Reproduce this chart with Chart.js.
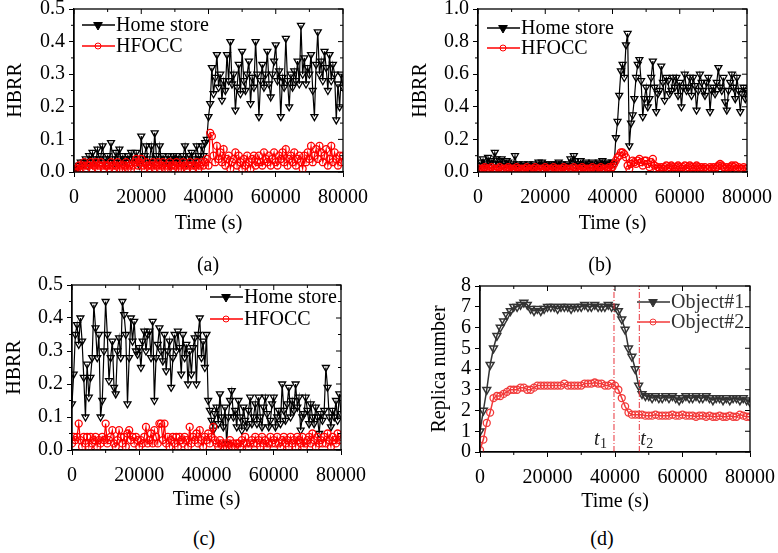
<!DOCTYPE html>
<html>
<head>
<meta charset="utf-8">
<title>HBRR / Replica number</title>
<script src="https://cdn.jsdelivr.net/npm/chart.js@4.4.0/dist/chart.umd.min.js"></script>
<style>
  body { margin: 0; background: #fff; width: 778px; height: 553px; position: relative; overflow: hidden;
         font-family: 'Liberation Serif', 'Times New Roman', serif; }
  canvas { position: absolute; }
  .cap { position: absolute; font-size: 20px; color: #000; transform: translate(-50%, -50%); white-space: nowrap; }
</style>
</head>
<body>
<canvas id="pa" width="390" height="245" style="left:0;top:0"></canvas>
<canvas id="pb" width="388" height="245" style="left:390px;top:0"></canvas>
<canvas id="pc" width="390" height="245" style="left:0;top:270px"></canvas>
<canvas id="pd" width="388" height="245" style="left:390px;top:270px"></canvas>
<div class="cap" style="left:208px;top:264px">(a)</div>
<div class="cap" style="left:600px;top:264px">(b)</div>
<div class="cap" style="left:204px;top:538px">(c)</div>
<div class="cap" style="left:602px;top:538px">(d)</div>
<script>
// sample times (s) for panels a-c, one row = 5000 s
const times = [0,500,1000,1500,2000,2500,3000,3500,4000,4500,
  5000,5500,6000,6500,7000,7500,8000,8500,9000,9500,
  10000,10500,11000,11500,12000,12500,13000,13500,14000,14500,
  15000,15500,16000,16500,17000,17500,18000,18500,19000,19500,
  20000,20500,21000,21500,22000,22500,23000,23500,24000,24500,
  25000,25500,26000,26500,27000,27500,28000,28500,29000,29500,
  30000,30500,31000,31500,32000,32500,33000,33500,34000,34500,
  35000,35500,36000,36500,37000,37500,38000,38500,39000,39500,
  40000,40500,41000,41500,42000,42500,43000,43500,44000,44500,
  45000,45500,46000,46500,47000,47500,48000,48500,49000,49500,
  50000,50500,51000,51500,52000,52500,53000,53500,54000,54500,
  55000,55500,56000,56500,57000,57500,58000,58500,59000,59500,
  60000,60500,61000,61500,62000,62500,63000,63500,64000,64500,
  65000,65500,66000,66500,67000,67500,68000,68500,69000,69500,
  70000,70500,71000,71500,72000,72500,73000,73500,74000,74500,
  75000,75500,76000,76500,77000,77500,78000,78500,79000,79500,
  80000];

// (a) HBRR
const homeA = [0.01,0.01,0.01,0.02,0.03,0.02,0.03,0.04,0.02,0.05,
  0.03,0.06,0.04,0.03,0.07,0.04,0.05,0.08,0.03,0.04,
  0.05,0.03,0.09,0.04,0.03,0.06,0.04,0.07,0.03,0.05,
  0.04,0.03,0.05,0.04,0.06,0.03,0.04,0.06,0.03,0.02,
  0.11,0.04,0.05,0.08,0.03,0.04,0.08,0.03,0.12,0.05,
  0.04,0.08,0.03,0.05,0.04,0.03,0.05,0.02,0.04,0.05,
  0.03,0.05,0.04,0.03,0.04,0.05,0.08,0.03,0.04,0.05,
  0.06,0.03,0.04,0.08,0.05,0.04,0.08,0.05,0.09,0.10,
  0.17,0.21,0.32,0.24,0.29,0.36,0.26,0.30,0.22,0.28,
  0.25,0.36,0.28,0.40,0.27,0.30,0.19,0.26,0.33,0.24,
  0.37,0.28,0.25,0.30,0.34,0.21,0.29,0.26,0.40,0.30,
  0.17,0.28,0.33,0.26,0.30,0.37,0.27,0.23,0.30,0.34,
  0.39,0.28,0.31,0.17,0.29,0.26,0.41,0.28,0.20,0.30,
  0.26,0.31,0.28,0.34,0.27,0.45,0.30,0.35,0.27,0.32,
  0.30,0.36,0.25,0.17,0.33,0.43,0.30,0.34,0.28,0.37,
  0.32,0.25,0.36,0.28,0.33,0.30,0.16,0.27,0.20,0.30,
  0.26];
const hfoccA = [0.00,0.01,0.01,0.02,0.01,0.02,0.03,0.01,0.02,0.02,
  0.03,0.01,0.02,0.03,0.01,0.02,0.03,0.02,0.01,0.02,
  0.02,0.01,0.03,0.02,0.01,0.02,0.03,0.01,0.02,0.01,
  0.02,0.03,0.01,0.02,0.01,0.02,0.03,0.04,0.02,0.03,
  0.04,0.02,0.01,0.03,0.02,0.01,0.02,0.03,0.01,0.02,
  0.03,0.01,0.02,0.03,0.01,0.02,0.01,0.03,0.02,0.01,
  0.02,0.03,0.01,0.02,0.01,0.03,0.02,0.01,0.02,0.03,
  0.02,0.01,0.02,0.03,0.01,0.02,0.03,0.02,0.03,0.04,
  0.02,0.12,0.11,0.05,0.03,0.08,0.04,0.06,0.03,0.07,
  0.02,0.04,0.05,0.01,0.03,0.04,0.06,0.02,0.05,0.03,
  0.01,0.04,0.02,0.05,0.03,0.01,0.04,0.05,0.02,0.03,
  0.05,0.03,0.02,0.06,0.04,0.03,0.05,0.02,0.04,0.06,
  0.03,0.02,0.05,0.04,0.06,0.03,0.07,0.02,0.04,0.05,
  0.03,0.06,0.02,0.04,0.05,0.03,0.01,0.05,0.03,0.06,
  0.04,0.08,0.03,0.05,0.07,0.04,0.08,0.06,0.03,0.05,
  0.07,0.02,0.04,0.08,0.03,0.06,0.04,0.02,0.05,0.03,
  0.05];

// (b) HBRR
const homeB = [0.02,0.04,0.06,0.08,0.05,0.04,0.09,0.06,0.07,0.05,
  0.12,0.08,0.05,0.07,0.08,0.04,0.05,0.07,0.06,0.04,
  0.03,0.05,0.10,0.04,0.05,0.03,0.04,0.05,0.03,0.04,
  0.05,0.03,0.04,0.05,0.03,0.04,0.06,0.04,0.06,0.05,
  0.04,0.03,0.05,0.04,0.05,0.03,0.04,0.05,0.06,0.04,
  0.05,0.03,0.04,0.05,0.04,0.08,0.06,0.10,0.07,0.04,
  0.05,0.07,0.04,0.05,0.06,0.04,0.05,0.04,0.06,0.05,
  0.03,0.04,0.06,0.05,0.07,0.04,0.05,0.06,0.05,0.04,
  0.06,0.05,0.21,0.31,0.47,0.62,0.66,0.58,0.78,0.85,
  0.16,0.30,0.35,0.45,0.58,0.66,0.69,0.56,0.34,0.45,
  0.52,0.40,0.45,0.58,0.68,0.52,0.37,0.48,0.50,0.65,
  0.55,0.44,0.58,0.56,0.48,0.50,0.58,0.52,0.58,0.47,
  0.55,0.40,0.52,0.60,0.50,0.52,0.58,0.47,0.58,0.53,
  0.38,0.50,0.60,0.55,0.50,0.47,0.55,0.58,0.37,0.50,
  0.52,0.48,0.55,0.64,0.52,0.50,0.58,0.43,0.38,0.50,
  0.55,0.60,0.52,0.45,0.58,0.50,0.37,0.48,0.52,0.45,
  0.50];
const hfoccB = [0.01,0.02,0.01,0.02,0.03,0.02,0.01,0.02,0.03,0.01,
  0.02,0.01,0.02,0.03,0.01,0.02,0.01,0.02,0.03,0.02,
  0.01,0.02,0.01,0.03,0.02,0.01,0.02,0.01,0.02,0.03,
  0.01,0.02,0.01,0.02,0.03,0.01,0.02,0.01,0.02,0.01,
  0.03,0.02,0.01,0.02,0.01,0.03,0.02,0.01,0.02,0.01,
  0.02,0.03,0.01,0.02,0.01,0.02,0.01,0.03,0.02,0.01,
  0.02,0.01,0.03,0.02,0.01,0.02,0.01,0.02,0.03,0.01,
  0.02,0.01,0.02,0.03,0.01,0.02,0.01,0.02,0.03,0.02,
  0.03,0.05,0.07,0.09,0.10,0.12,0.12,0.11,0.09,0.04,
  0.02,0.05,0.07,0.06,0.05,0.07,0.08,0.06,0.04,0.07,
  0.07,0.05,0.03,0.06,0.08,0.04,0.02,0.03,0.02,0.03,
  0.02,0.03,0.04,0.02,0.03,0.04,0.03,0.02,0.03,0.04,
  0.03,0.02,0.03,0.04,0.02,0.03,0.04,0.03,0.02,0.03,
  0.04,0.03,0.02,0.03,0.02,0.03,0.02,0.02,0.03,0.02,
  0.03,0.02,0.03,0.04,0.05,0.04,0.03,0.02,0.03,0.02,
  0.03,0.04,0.03,0.04,0.02,0.03,0.02,0.02,0.03,0.02,
  0.02];

// (c) HBRR
const homeC = [0.14,0.23,0.35,0.38,0.32,0.40,0.33,0.22,0.10,0.26,
  0.16,0.22,0.28,0.44,0.37,0.28,0.35,0.10,0.15,0.30,
  0.45,0.35,0.21,0.28,0.33,0.19,0.17,0.30,0.34,0.28,
  0.45,0.41,0.35,0.14,0.28,0.40,0.33,0.39,0.30,0.29,
  0.31,0.25,0.33,0.36,0.30,0.35,0.36,0.28,0.39,0.15,
  0.28,0.32,0.37,0.30,0.27,0.35,0.24,0.30,0.33,0.19,
  0.28,0.35,0.30,0.36,0.31,0.23,0.35,0.28,0.32,0.20,
  0.30,0.23,0.31,0.34,0.20,0.35,0.40,0.28,0.33,0.25,
  0.35,0.15,0.12,0.09,0.06,0.11,0.13,0.08,0.17,0.10,
  0.07,0.13,0.02,0.10,0.15,0.18,0.10,0.12,0.07,0.15,
  0.10,0.06,0.13,0.09,0.07,0.12,0.16,0.08,0.10,0.14,
  0.08,0.16,0.10,0.07,0.13,0.16,0.11,0.07,0.09,0.14,
  0.16,0.07,0.10,0.12,0.08,0.20,0.12,0.09,0.14,0.19,
  0.10,0.15,0.12,0.20,0.13,0.16,0.06,0.10,0.11,0.16,
  0.12,0.08,0.14,0.10,0.08,0.13,0.10,0.05,0.11,0.09,
  0.12,0.25,0.19,0.10,0.07,0.12,0.10,0.15,0.09,0.17,
  0.11];
const hfoccC = [0.02,0.04,0.03,0.04,0.08,0.03,0.01,0.04,0.02,0.04,
  0.01,0.04,0.02,0.03,0.04,0.01,0.03,0.02,0.04,0.03,
  0.08,0.02,0.03,0.04,0.06,0.02,0.01,0.03,0.06,0.04,
  0.02,0.04,0.01,0.05,0.06,0.03,0.04,0.02,0.04,0.03,
  0.01,0.03,0.02,0.04,0.07,0.02,0.03,0.05,0.02,0.06,
  0.04,0.02,0.08,0.08,0.03,0.08,0.02,0.04,0.01,0.03,
  0.04,0.02,0.04,0.01,0.04,0.03,0.02,0.04,0.03,0.01,
  0.07,0.02,0.04,0.03,0.05,0.02,0.06,0.03,0.01,0.04,
  0.03,0.05,0.02,0.04,0.07,0.03,0.02,0.01,0.03,0.02,
  0.01,0.02,0.01,0.02,0.03,0.01,0.02,0.01,0.02,0.02,
  0.01,0.03,0.02,0.04,0.02,0.01,0.02,0.03,0.02,0.04,
  0.02,0.03,0.01,0.04,0.02,0.03,0.01,0.02,0.04,0.02,
  0.03,0.02,0.04,0.02,0.01,0.03,0.04,0.02,0.03,0.01,
  0.04,0.02,0.03,0.01,0.04,0.03,0.02,0.04,0.01,0.02,
  0.03,0.04,0.02,0.05,0.03,0.01,0.04,0.02,0.03,0.02,
  0.04,0.02,0.05,0.03,0.01,0.04,0.03,0.02,0.05,0.03,
  0.04];

// (d) replica number, sampled every 1000 s
const timesD = [0,1000,2000,3000,4000,5000,6000,7000,8000,9000,
  10000,11000,12000,13000,14000,15000,16000,17000,18000,19000,
  20000,21000,22000,23000,24000,25000,26000,27000,28000,29000,
  30000,31000,32000,33000,34000,35000,36000,37000,38000,39000,
  40000,41000,42000,43000,44000,45000,46000,47000,48000,49000,
  50000,51000,52000,53000,54000,55000,56000,57000,58000,59000,
  60000,61000,62000,63000,64000,65000,66000,67000,68000,69000,
  70000,71000,72000,73000,74000,75000,76000,77000,78000,79000,
  80000];
const obj1D = [1.0,2.0,3.0,4.2,5.0,5.6,6.0,6.3,6.6,6.8,
  7.0,7.0,7.1,7.2,7.1,6.9,6.8,6.9,6.8,6.9,
  7.0,7.0,7.0,6.9,7.0,7.0,7.0,6.9,7.0,7.0,
  7.0,7.1,7.0,7.0,7.1,7.0,7.0,7.0,7.1,7.0,
  7.0,6.8,6.4,5.9,5.0,4.6,4.0,3.2,2.8,2.7,
  2.7,2.6,2.7,2.6,2.6,2.7,2.6,2.7,2.6,2.5,
  2.6,2.7,2.6,2.6,2.7,2.6,2.6,2.7,2.6,2.5,
  2.6,2.6,2.5,2.6,2.5,2.6,2.6,2.5,2.6,2.5,
  2.4];
const obj2D = [0.1,0.6,1.4,1.9,2.6,2.7,2.7,2.8,2.9,3.0,
  3.0,3.0,3.1,3.1,3.0,3.0,3.1,3.2,3.2,3.2,
  3.2,3.2,3.2,3.2,3.2,3.3,3.2,3.2,3.2,3.2,
  3.2,3.3,3.3,3.3,3.35,3.3,3.3,3.2,3.2,3.3,
  3.2,3.0,2.6,2.2,1.9,1.8,1.8,1.8,1.8,1.75,
  1.75,1.75,1.8,1.75,1.75,1.75,1.75,1.8,1.75,1.75,
  1.8,1.75,1.75,1.75,1.7,1.75,1.75,1.7,1.75,1.7,
  1.7,1.75,1.7,1.7,1.75,1.7,1.7,1.8,1.75,1.7,
  1.7];
const markTimes = [39700, 47200];   // t1, t2
const markNames = ['1', '2'];

Chart.defaults.font.family = "'Liberation Serif', 'Times New Roman', serif";
Chart.defaults.font.size = 20;
Chart.defaults.font.weight = 'normal';
Chart.defaults.color = '#000';

// box round the plot + mirrored / minor ticks
const frame = {
  id: 'frame',
  afterDatasetsDraw(chart, args, opts) {
    const { ctx, chartArea: a, scales: { x, y } } = chart;
    const tick = (x1, y1, x2, y2) => { ctx.beginPath(); ctx.moveTo(x1, y1); ctx.lineTo(x2, y2); ctx.stroke(); };
    ctx.save();
    ctx.strokeStyle = '#000';
    ctx.lineWidth = 1.3;
    ctx.strokeRect(a.left, a.top, a.right - a.left, a.bottom - a.top);
    ctx.lineWidth = 1;
    x.ticks.forEach(t => { const p = x.getPixelForValue(t.value); tick(p, a.top, p, a.top + 5); });
    y.ticks.forEach(t => { const p = y.getPixelForValue(t.value); tick(a.right, p, a.right - 5, p); });
    for (let i = 0; i < x.ticks.length - 1; i++) {
      const p = x.getPixelForValue((x.ticks[i].value + x.ticks[i + 1].value) / 2);
      tick(p, a.bottom, p, a.bottom + 3);
      tick(p, a.top, p, a.top + 3);
    }
    if (opts.minorY) {
      for (let i = 0; i < y.ticks.length - 1; i++) {
        const p = y.getPixelForValue((y.ticks[i].value + y.ticks[i + 1].value) / 2);
        tick(a.left, p, a.left - 3, p);
        tick(a.right, p, a.right - 3, p);
      }
    }
    ctx.restore();
  }
};

// legend drawn inside the plot: short line + marker + label
const keyBox = {
  id: 'keyBox',
  afterDraw(chart, args, opts) {
    const ctx = chart.ctx;
    let row = 0;
    chart.data.datasets.forEach(ds => {
      if (ds.noKey) return;
      const yy = opts.y + row * opts.dy;
      ctx.save();
      ctx.strokeStyle = ds.borderColor;
      ctx.lineWidth = 1.5;
      ctx.beginPath(); ctx.moveTo(opts.x, yy); ctx.lineTo(opts.x + 33, yy); ctx.stroke();
      ctx.fillStyle = ds.keyFill;
      ctx.lineWidth = 1;
      Chart.helpers.drawPoint(ctx, { pointStyle: ds.pointStyle, rotation: ds.pointRotation,
        radius: ds.keyRadius, borderWidth: 1 }, opts.x + 16, yy);
      ctx.fillStyle = opts.color || '#000';
      ctx.font = "20px 'Liberation Serif', serif";
      ctx.textBaseline = 'middle';
      ctx.fillText(ds.label, opts.x + 34, yy + 1);
      ctx.restore();
      row++;
    });
  }
};

// italic t1 / t2 labels beside the dash-dot lines
const tMarks = {
  id: 'tMarks',
  afterDraw(chart, args, opts) {
    if (!opts.dx) return;
    const { ctx, chartArea: a, scales: { x } } = chart;
    ctx.save();
    ctx.fillStyle = '#222';
    ctx.textBaseline = 'alphabetic';
    markTimes.forEach((t, i) => {
      const px = x.getPixelForValue(t) + opts.dx[i];
      const base = a.bottom - 7;
      ctx.font = "italic 20px 'Liberation Serif', serif";
      ctx.fillText('t', px, base);
      ctx.font = "14px 'Liberation Serif', serif";
      ctx.fillText(markNames[i], px + 6, base + 3);
    });
    ctx.restore();
  }
};

function series(label, xs, values, color, style, order, extra) {
  const tri = style === 'triangle';
  return Object.assign({
    label,
    data: xs.map((t, i) => ({ x: t, y: values[i] })),
    borderColor: color,
    borderWidth: 1.2,
    pointStyle: style,
    pointRotation: tri ? 180 : 0,
    pointRadius: tri ? 4 : 3.5,
    pointBorderColor: color,
    pointBackgroundColor: 'rgba(255,255,255,0)',
    pointBorderWidth: 1.3,
    keyFill: tri ? color : 'rgba(255,255,255,0)',
    keyRadius: tri ? 5 : 3,
    order
  }, extra || {});
}

function markLine(t) {
  return {
    data: [{ x: t, y: 0 }, { x: t, y: 8 }],
    borderColor: '#e8343c', borderWidth: 1, borderDash: [6, 2, 1, 2],
    pointRadius: 0, noKey: true, order: -1
  };
}

const gridOpt = { display: true, drawOnChartArea: false, drawTicks: true, tickLength: 5, color: '#000', lineWidth: 1 };
const borderOpt = { display: true, color: '#000', width: 1.3 };

function panel(id, o) {
  return new Chart(document.getElementById(id), {
    type: 'line',
    data: { datasets: o.datasets },
    options: {
      responsive: false,
      animation: false,
      layout: { padding: o.pad },
      plugins: {
        legend: { display: false },
        tooltip: { enabled: false },
        frame: { minorY: o.minorY },
        keyBox: o.key,
        tMarks: o.tMarks || {}
      },
      scales: {
        x: {
          type: 'linear', min: 0, max: 80000,
          afterFit: s => { s.height = o.xh; s.paddingLeft = 0; s.paddingRight = 0; },
          ticks: { stepSize: 20000, padding: 9, autoSkip: false, maxRotation: 0, callback: v => String(v) },
          grid: gridOpt, border: borderOpt,
          title: { display: true, text: 'Time (s)', font: { weight: 'normal' }, padding: { top: 0, bottom: o.xtPad } }
        },
        y: {
          type: 'linear', min: 0, max: o.ymax,
          afterFit: s => { s.width = o.yw; s.paddingTop = 0; s.paddingBottom = 0; },
          ticks: { stepSize: o.ystep, padding: 4, autoSkip: false, callback: o.yfmt },
          grid: gridOpt, border: borderOpt,
          title: { display: true, text: o.ytitle, font: { weight: 'normal' }, padding: { top: o.ytPad, bottom: 0 } }
        }
      }
    },
    plugins: [frame, keyBox, tMarks]
  });
}

const oneDec = v => Number(v).toFixed(1);

panel('pa', {
  datasets: [series('Home store', times, homeA, '#000', 'triangle', 1),
             series('HFOCC', times, hfoccA, '#ff0000', 'circle', 0)],
  pad: { left: 0, top: 9, right: 47, bottom: 0 }, yw: 74, xh: 73, xtPad: 9, ytPad: 4,
  ymax: 0.5, ystep: 0.1, yfmt: oneDec, ytitle: 'HBRR', minorY: true,
  key: { x: 82, y: 25, dy: 21 }
});
panel('pb', {
  datasets: [series('Home store', times, homeB, '#000', 'triangle', 1),
             series('HFOCC', times, hfoccB, '#ff0000', 'circle', 0)],
  pad: { left: 0, top: 9, right: 31, bottom: 0 }, yw: 88, xh: 73, xtPad: 9, ytPad: 19,
  ymax: 1.0, ystep: 0.2, yfmt: oneDec, ytitle: 'HBRR', minorY: true,
  key: { x: 97, y: 28, dy: 20 }
});
panel('pc', {
  datasets: [series('Home store', times, homeC, '#000', 'triangle', 1),
             series('HFOCC', times, hfoccC, '#ff0000', 'circle', 0)],
  pad: { left: 0, top: 15, right: 49, bottom: 0 }, yw: 72, xh: 65, xtPad: 3, ytPad: 3,
  ymax: 0.5, ystep: 0.1, yfmt: oneDec, ytitle: 'HBRR', minorY: true,
  key: { x: 210, y: 27, dy: 22 }
});
panel('pd', {
  datasets: [
    series('Object#1', timesD, obj1D, '#333333', 'triangle', 1, { pointRadius: 4.5, pointBorderWidth: 1.5, borderWidth: 1.5 }),
    series('Object#2', timesD, obj2D, '#f23a3a', 'circle', 0, { borderWidth: 1.5 }),
    markLine(markTimes[0]), markLine(markTimes[1])
  ],
  pad: { left: 0, top: 16, right: 28, bottom: 0 }, yw: 90, xh: 63, xtPad: 1, ytPad: 38,
  ymax: 8, ystep: 1, yfmt: v => String(v), ytitle: 'Replica number', minorY: false,
  key: { x: 247, y: 32, dy: 20, color: '#333' },
  tMarks: { dx: [-20, 1] }
});
</script>
</body>
</html>
